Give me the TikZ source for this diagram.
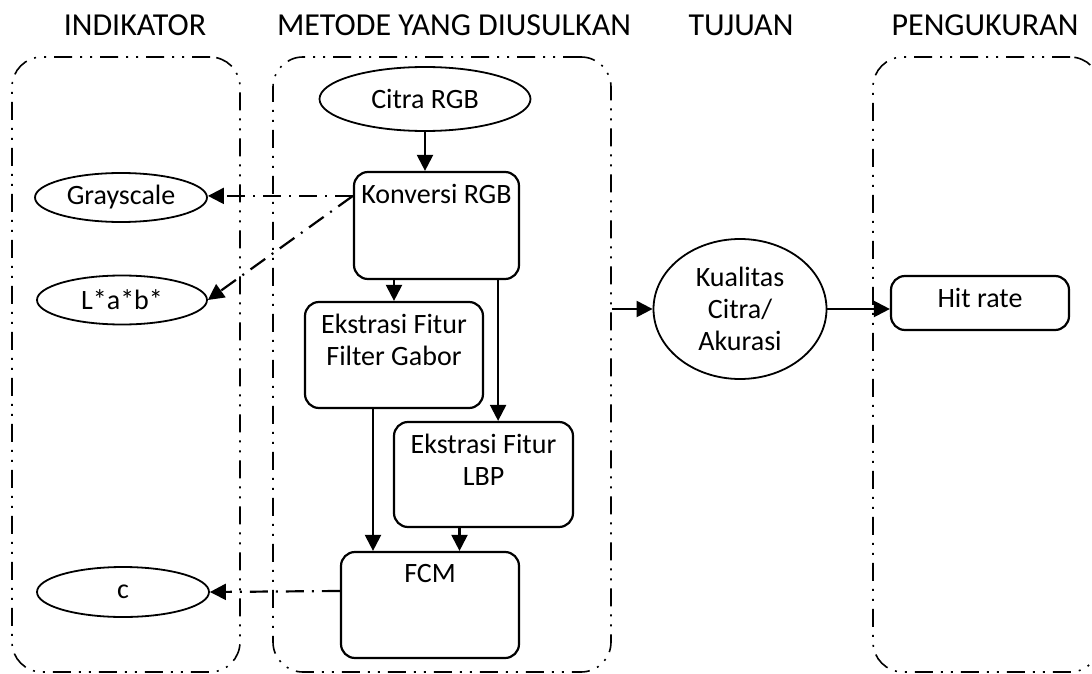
\documentclass[tikz,border=0pt]{standalone}
\usepackage{fontspec}
\setmainfont{Carlito}
\usetikzlibrary{shapes,arrows.meta,positioning}

\begin{document}
\begin{tikzpicture}[x=0.5pt,y=-0.5pt,
    every node/.style={font=\fontsize{14pt}{16pt}\selectfont},
    title/.style={font=\fontsize{16pt}{18pt}\selectfont},
    grp/.style={draw, line width=0.8pt, rounded corners=15pt,
        dash pattern=on 9pt off 4pt on 1pt off 4pt on 1pt off 4pt,
        minimum width=#1, minimum height=307.5pt},
    proc/.style 2 args={draw, line width=1.1pt, rounded corners=7pt,
        minimum width=#1, minimum height=#2, inner sep=0pt},
    oval/.style 2 args={draw, ellipse, line width=0.9pt,
        minimum width=#1, minimum height=#2, inner sep=0pt},
    tl/.style={anchor=north, yshift=-3pt, align=center},
    flow/.style={line width=1.1pt, -{Triangle[length=8pt,width=8pt]}},
    link/.style={flow, dash pattern=on 9pt off 4pt on 1pt off 4pt}]
    \useasboundingbox (0,0) rectangle (1092,674);
    \clip (0,0) rectangle (1092,674);

    % judul kolom
    \node[title] (tind) at (135,25) {INDIKATOR};
    \node[title] (tmet) at (454,25) {METODE YANG DIUSULKAN};
    \node[title] (ttuj) at (741,25) {TUJUAN};
    \node[title] (tpeng) at (985,25) {PENGUKURAN};

    \node[grp=114pt] (indbox) at (126,364.5) {};
    \node[grp=169pt] (metbox) at (442,364.5) {};
    \node[grp=113.5pt] (pengbox) at (986.5,364.5) {};

    % metode
    \node[oval={105.5pt}{32pt}] (citra) at (425,99) {Citra RGB};
    \node[proc={82.5pt}{53.5pt}, label={[tl]north:Konversi RGB}] (konv) at (436.5,225.5) {};
    \node[proc={89pt}{53pt}, label={[tl]north:Ekstrasi Fitur\\Filter Gabor}] (gabor) at (394,355) {};
    \node[proc={89.5pt}{52.5pt}, label={[tl]north:Ekstrasi Fitur\\LBP}] (lbp) at (483.5,474.5) {};
    \node[proc={89pt}{53pt}, label={[tl]north:FCM}] (fcm) at (430,605) {};

    % indikator
    \node[oval={86pt}{24.5pt}] (gray) at (121,197.5) {Grayscale};
    \node[oval={85pt}{24.5pt}] (lab) at (122,300) {L*a*b*};
    \node[oval={86pt}{25pt}] (clus) at (123,592) {c};

    % tujuan dan pengukuran
    \node[oval={86.5pt}{70pt}, align=center] (kual) at (740,309) {Kualitas\\Citra/\\Akurasi};
    \node[proc={89pt}{27pt}, label={[tl]north:Hit rate}] (hit) at (980,303) {};

    \coordinate (ko) at ([yshift=-12.5pt]konv.north west);
    \coordinate (k2) at ([xshift=-11pt]konv.south east);
    \coordinate (g2) at ([xshift=-10.5pt]gabor.south);
    \coordinate (l2) at ([xshift=-12pt]lbp.south);

    % panah
    \draw[flow] (citra.south) -- (citra.south |- konv.north);
    \draw[flow] (gabor.north |- konv.south) -- (gabor.north);
    \draw[flow] (k2) -- (k2 |- lbp.north);
    \draw[flow] (g2) -- (g2 |- fcm.north);
    \draw[flow] (l2) -- (l2 |- fcm.north);
    \draw[link] (ko) -- (ko -| gray.east);
    \draw[link] (ko) -- (lab.east);
    \draw[link] ([yshift=7pt]fcm.west) -- (clus.east);
    \draw[flow] (metbox.east |- kual.west) -- (kual.west);
    \draw[flow] (kual.east) -- (kual.east -| hit.west);
\end{tikzpicture}
\end{document}
